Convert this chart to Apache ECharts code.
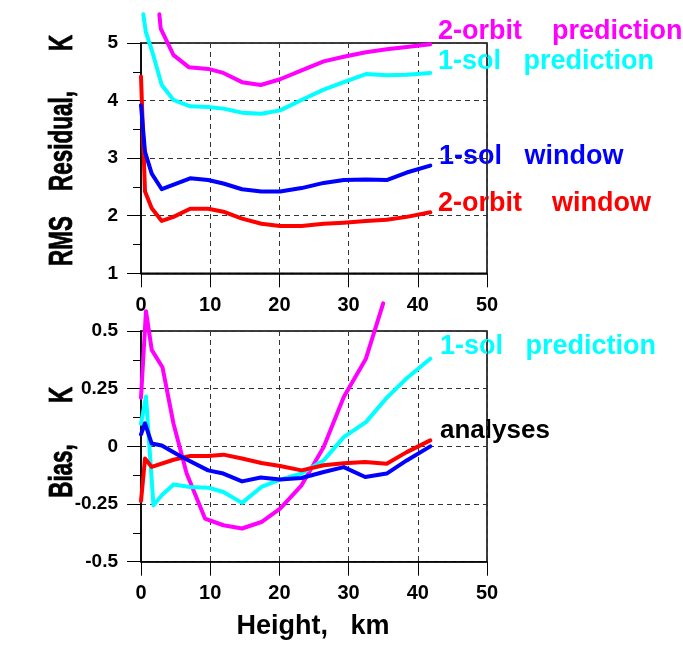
<!DOCTYPE html>
<html><head><meta charset="utf-8">
<script src="https://cdn.jsdelivr.net/npm/echarts@6/dist/echarts.min.js"></script>
<style>html,body{margin:0;padding:0;background:#fff}#c{width:683px;height:646px}</style>
</head><body><div id="c"></div>
<script>
// ---- axes ----
const xTicks = [0, 10, 20, 30, 40, 50];
const rmsTicks = [1, 2, 3, 4, 5];
const biasTicks = [-0.5, -0.25, 0, 0.25, 0.5];

// ---- top panel: RMS residual, K ----
const rmsOrbPredH = [2.65, 2.85, 4.7, 6.9, 9.7, 11.9, 14.6, 17.3, 20.1, 23.3, 26.4, 29.3, 32.5, 35.5, 38.4, 41.8];
const rmsOrbPredV = [5.5, 5.25, 4.79, 4.58, 4.55, 4.48, 4.32, 4.27, 4.37, 4.53, 4.68, 4.76, 4.84, 4.89, 4.93, 4.98];
const rmsSolPredH = [0.33, 0.7, 1.6, 3.0, 4.7, 7.1, 9.7, 11.9, 14.6, 17.4, 20.1, 23.2, 26.4, 29.3, 32.5, 35.5, 38.4, 41.8];
const rmsSolPredV = [5.5, 5.19, 4.86, 4.27, 4.01, 3.90, 3.89, 3.86, 3.79, 3.77, 3.83, 4.01, 4.19, 4.32, 4.46, 4.44, 4.45, 4.48];
const rmsSolWinH = [0, 0.58, 1.55, 3.0, 7.1, 9.7, 11.9, 14.6, 17.4, 20.1, 23.2, 26.4, 29.3, 32.5, 35.5, 38.4, 41.8];
const rmsSolWinV = [3.92, 3.11, 2.73, 2.46, 2.65, 2.62, 2.56, 2.46, 2.42, 2.42, 2.48, 2.57, 2.62, 2.63, 2.62, 2.75, 2.87];
const rmsOrbWinH = [0, 0.58, 1.55, 3.0, 4.7, 7.1, 9.7, 11.9, 14.6, 17.4, 20.1, 23.2, 26.4, 29.3, 32.5, 35.5, 38.4, 41.8];
const rmsOrbWinV = [4.42, 2.42, 2.13, 1.91, 1.98, 2.12, 2.12, 2.07, 1.95, 1.86, 1.82, 1.82, 1.86, 1.88, 1.91, 1.93, 1.98, 2.06];

// ---- bottom panel: Bias, K ----
const biasOrbPredH = [0, 0.72, 1.55, 3.1, 4.7, 6.6, 9.25, 11.9, 14.6, 17.4, 20.1, 23.2, 26.4, 29.3, 32.5, 35.0];
const biasOrbPredV = [0.211, 0.586, 0.418, 0.343, 0.098, -0.118, -0.313, -0.342, -0.356, -0.328, -0.270, -0.169, -0.003, 0.214, 0.380, 0.62];
const biasSolPredH = [0, 0.72, 1.8, 3.0, 4.7, 7.1, 9.7, 11.9, 14.6, 17.4, 20.1, 23.2, 26.4, 29.3, 32.5, 35.5, 38.4, 41.8];
const biasSolPredV = [0.098, 0.216, -0.255, -0.212, -0.165, -0.176, -0.179, -0.198, -0.245, -0.176, -0.144, -0.117, -0.061, 0.040, 0.105, 0.21, 0.295, 0.380];
const biasOrbWinH = [0, 0.58, 1.55, 4.7, 7.1, 9.7, 11.9, 14.6, 17.4, 20.1, 23.2, 26.4, 29.3, 32.4, 35.5, 38.4, 41.8];
const biasOrbWinV = [-0.237, -0.053, -0.089, -0.058, -0.042, -0.042, -0.036, -0.053, -0.072, -0.085, -0.104, -0.082, -0.073, -0.068, -0.075, -0.025, 0.026];
const biasSolWinH = [0, 0.58, 1.55, 3.0, 5.9, 9.7, 11.9, 14.6, 17.3, 20.1, 23.2, 26.4, 29.3, 32.4, 35.5, 38.4, 41.8];
const biasSolWinV = [0.052, 0.10, 0.012, 0.004, -0.046, -0.104, -0.118, -0.152, -0.135, -0.144, -0.137, -0.111, -0.09, -0.133, -0.118, -0.061, 0.0];

// ---- texts ----
const topLabels = ['2-orbit    prediction', '1-sol   prediction', '1-sol   window', '2-orbit    window'];
const bottomLabels = ['1-sol   prediction', 'analyses'];
const yTitleTop = ['RMS', 'Residual,', 'K'];
const yTitleBottom = ['Bias,', 'K'];
const xTitle = 'Height,   km';

const C = { mag: '#ff00ff', cyan: '#00ffff', blue: '#0000ff', red: '#ff0000' };
const FONT = '"Liberation Sans", Arial, sans-serif';

const pairs = (h, v) => h.map((x, i) => [x, v[i]]);

function xAxisCfg(gi) {
  return {
    type: 'value', gridIndex: gi, min: xTicks[0], max: xTicks[xTicks.length - 1], interval: 10,
    axisLine: { show: true, onZero: false, lineStyle: { color: '#000', width: 1.5 } },
    axisTick: { show: true, length: 14, lineStyle: { color: '#000', width: 1 } },
    axisLabel: { fontSize: 20, fontWeight: 'bold', color: '#000', margin: 22, fontFamily: FONT },
    splitLine: { show: true, lineStyle: { color: '#333', width: 1, type: [5, 4] } }
  };
}
function yAxisCfg(gi, ticks, interval) {
  return {
    type: 'value', gridIndex: gi, min: ticks[0], max: ticks[ticks.length - 1], interval: interval,
    axisLine: { show: true, onZero: false, lineStyle: { color: '#000', width: 1.5 } },
    axisTick: { show: true, length: 14, lineStyle: { color: '#000', width: 1 } },
    minorTick: { show: true, splitNumber: 2, length: 8, lineStyle: { color: '#000', width: 1 } },
    axisLabel: { fontSize: 19, fontWeight: 'bold', color: '#000', margin: 23, fontFamily: FONT },
    splitLine: { show: true, lineStyle: { color: '#333', width: 1, type: [5, 4] } }
  };
}
function line(name, gi, h, v, color, z) {
  return {
    name, type: 'line', xAxisIndex: gi, yAxisIndex: gi, data: pairs(h, v),
    showSymbol: false, symbol: 'none', clip: false, z: z,
    lineStyle: { width: 4, color: color, join: 'round', cap: 'round' }
  };
}
function txt(s, x, y, color, size) {
  return { type: 'text', x: x, y: y, style: { text: s, fill: color, font: 'bold ' + size + 'px ' + FONT, textAlign: 'left', textVerticalAlign: 'middle' } };
}
function vtxt(s, x, y, size) {
  return { type: 'text', x: x, y: y, rotation: Math.PI / 2, scaleX: 0.66,
    style: { text: s, fill: '#000', stroke: '#000', lineWidth: 0.8, font: 'bold ' + size + 'px ' + FONT, textAlign: 'center', textVerticalAlign: 'middle' } };
}

const chart = echarts.init(document.getElementById('c'), null, { renderer: 'canvas' });
chart.setOption({
  animation: false,
  backgroundColor: '#fff',
  grid: [
    { left: 141, right: 196, top: 43, height: 230.3, show: true, borderColor: '#000', borderWidth: 1.5 },
    { left: 141, right: 196, top: 331, height: 230.7, show: true, borderColor: '#000', borderWidth: 1.5 }
  ],
  xAxis: [xAxisCfg(0), xAxisCfg(1)],
  yAxis: [yAxisCfg(0, rmsTicks, 1), yAxisCfg(1, biasTicks, 0.25)],
  series: [
    line('2-orbit prediction', 0, rmsOrbPredH, rmsOrbPredV, C.mag, 2),
    line('1-sol prediction', 0, rmsSolPredH, rmsSolPredV, C.cyan, 3),
    line('2-orbit window', 0, rmsOrbWinH, rmsOrbWinV, C.red, 4),
    line('1-sol window', 0, rmsSolWinH, rmsSolWinV, C.blue, 5),
    line('2-orbit prediction bias', 1, biasOrbPredH, biasOrbPredV, C.mag, 2),
    line('1-sol prediction bias', 1, biasSolPredH, biasSolPredV, C.cyan, 3),
    line('2-orbit window bias', 1, biasOrbWinH, biasOrbWinV, C.red, 4),
    line('1-sol window bias', 1, biasSolWinH, biasSolWinV, C.blue, 5)
  ],
  graphic: [
    txt(topLabels[0], 438, 32, C.mag, 27),
    txt(topLabels[1], 438, 62, C.cyan, 27),
    txt(topLabels[2], 439, 157, C.blue, 27),
    txt(topLabels[3], 438, 204, C.red, 27),
    txt(bottomLabels[0], 440, 347, C.cyan, 27),
    txt(bottomLabels[1], 440, 431, '#000', 26),
    vtxt(yTitleTop[0], 63, 241, 34),
    vtxt(yTitleTop[1], 63, 141, 34),
    vtxt(yTitleTop[2], 63, 43, 34),
    vtxt(yTitleBottom[0], 63, 471, 34),
    vtxt(yTitleBottom[1], 63, 395, 34),
    { type: 'text', x: 313, y: 627, style: { text: xTitle, fill: '#000', font: 'bold 27px ' + FONT, textAlign: 'center', textVerticalAlign: 'middle' } }
  ]
});
</script></body></html>
